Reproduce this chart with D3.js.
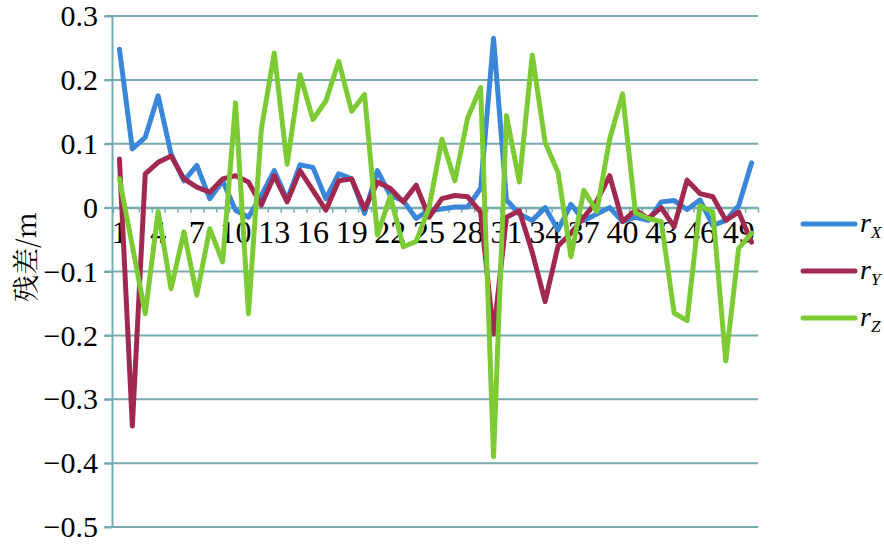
<!DOCTYPE html>
<html>
<head>
<meta charset="utf-8">
<script src="https://cdn.jsdelivr.net/npm/d3@7"></script>
<style>
  body { margin: 0; background: #fff; }
</style>
</head>
<body>
<div class="res"></div>
<script>
// categories 1..50 (point index)
const categories = d3.range(1, 51);

// residual series (m)
const rX = [0.248, 0.092, 0.110, 0.175, 0.084, 0.042, 0.066, 0.014, 0.042, -0.004,
            -0.015, 0.019, 0.058, 0.012, 0.067, 0.063, 0.014, 0.053, 0.045, -0.009,
            0.058, 0.019, 0.011, -0.017, -0.004, -0.002, 0.001, 0.001, 0.030, 0.265,
            0.012, -0.010, -0.020, 0.000, -0.035, 0.005, -0.020, -0.010, 0.000, -0.022,
            -0.015, -0.020, 0.009, 0.011, -0.003, 0.012, -0.028, -0.020, 0.003, 0.070];
const rY = [0.076, -0.342, 0.053, 0.071, 0.081, 0.045, 0.032, 0.024, 0.045, 0.050,
            0.040, 0.004, 0.050, 0.009, 0.058, 0.027, -0.004, 0.042, 0.045, -0.002,
            0.040, 0.030, 0.009, 0.035, -0.015, 0.014, 0.019, 0.017, -0.007, -0.198,
            -0.015, -0.005, -0.070, -0.147, -0.060, -0.040, -0.015, 0.010, 0.050, -0.022,
            -0.004, -0.017, 0.000, -0.030, 0.043, 0.022, 0.017, -0.020, -0.007, -0.054];
const rZ = [0.045, -0.060, -0.166, -0.006, -0.127, -0.038, -0.137, -0.033, -0.085, 0.164,
            -0.166, 0.123, 0.242, 0.068, 0.208, 0.138, 0.167, 0.229, 0.151, 0.177,
            -0.043, 0.018, -0.061, -0.053, 0.000, 0.107, 0.042, 0.141, 0.188, -0.390,
            0.144, 0.040, 0.239, 0.102, 0.055, -0.077, 0.027, -0.006, 0.107, 0.178,
            -0.008, -0.017, -0.022, -0.165, -0.177, 0.003, -0.007, -0.240, -0.064, -0.040];

const yTicks = [0.3, 0.2, 0.1, 0, -0.1, -0.2, -0.3, -0.4, -0.5];
const xLabels = categories.filter((d, i) => i % 3 === 0);
const seriesNames = ['X', 'Y', 'Z'];
const seriesColors = ['#3a86d8', '#a1294f', '#7ccb35'];

const W = 884, H = 552;
const plot = { left: 113, right: 758, top: 16, bottom: 527 };
const gridColor = '#76abb0';
const serif = '"Liberation Serif"';

const svg = d3.select('div.res')
    .append('svg')
    .attr('width', W)
    .attr('height', H)
    .style('background', '#fff');

/**
 * SCALES
 */
const x = d3.scaleBand()
    .domain(categories)
    .range([plot.left, plot.right]);

const xb = d3.scaleLinear() // category boundaries, for the small ticks
    .domain([0, categories.length])
    .range([plot.left, plot.right]);

const y = d3.scaleLinear()
    .domain([-0.5, 0.3])
    .range([plot.bottom, plot.top]);

const yFmt = d => d === 0 ? '0' : d3.format('.1f')(d);

/**
 * GRID
 */
svg.append('g')
    .selectAll('line')
    .data(yTicks)
    .enter().append('line')
    .attr('x1', plot.left - 8)
    .attr('x2', plot.right)
    .attr('y1', d => y(d))
    .attr('y2', d => y(d))
    .style('stroke', gridColor)
    .style('stroke-width', 2);

/**
 * Y AXIS (line + ticks from d3, labels drawn below)
 */
const gy = svg.append('g')
    .attr('transform', `translate(${plot.left - 1}, 0)`)
    .call(d3.axisLeft(y).tickValues(yTicks).tickSize(8).tickSizeOuter(0).tickFormat(''));
gy.select('.domain').style('stroke', gridColor).style('stroke-width', 2);
gy.selectAll('line').style('stroke', gridColor).style('stroke-width', 2);

svg.append('g')
    .selectAll('text')
    .data(yTicks)
    .enter().append('text')
    .attr('x', plot.left - 15)
    .attr('y', d => y(d))
    .attr('dy', '0.34em')
    .attr('text-anchor', 'end')
    .style('font-family', serif)
    .style('font-size', '30px')
    .style('fill', '#000')
    .text(yFmt);

/**
 * X AXIS (boundary ticks + labels)
 */
const gxb = svg.append('g')
    .attr('transform', `translate(0, ${y(0)})`)
    .call(d3.axisBottom(xb).tickValues(d3.range(0, categories.length + 1)).tickSize(5).tickSizeOuter(0).tickFormat(''));
gxb.select('.domain').style('stroke', gridColor).style('stroke-width', 2);
gxb.selectAll('line').style('stroke', gridColor).style('stroke-width', 1.5);

svg.append('g')
    .selectAll('text')
    .data(xLabels)
    .enter().append('text')
    .attr('x', d => x(d) + x.bandwidth() / 2)
    .attr('y', y(0) + 35)
    .attr('text-anchor', 'middle')
    .style('font-family', serif)
    .style('font-size', '32px')
    .style('fill', '#000')
    .text(d => d);

/**
 * LINES
 */
const line = d3.line()
    .x((d, i) => x(categories[i]) + x.bandwidth() / 2)
    .y(d => y(d));

[rX, rY, rZ].forEach((s, k) => {
    svg.append('path')
        .datum(s)
        .attr('d', line)
        .style('fill', 'none')
        .style('stroke', seriesColors[k])
        .style('stroke-width', 5)
        .style('stroke-linejoin', 'round')
        .style('stroke-linecap', 'round');
});

/**
 * LEGEND
 */
const legend = svg.append('g');
seriesNames.forEach((n, k) => {
    const ly = 224 + k * 47;
    legend.append('line')
        .attr('x1', 803).attr('x2', 855)
        .attr('y1', ly).attr('y2', ly)
        .style('stroke', seriesColors[k])
        .style('stroke-width', 5)
        .style('stroke-linecap', 'round');
    const t = legend.append('text')
        .attr('x', 860)
        .attr('y', ly + 8)
        .style('font-family', serif)
        .style('font-style', 'italic')
        .style('font-size', '28px');
    t.append('tspan').text('r');
    t.append('tspan')
        .attr('dy', 6)
        .style('font-size', '17px')
        .text(n);
});

/**
 * Y TITLE
 */
svg.append('text')
    .attr('transform', 'translate(24, 257) rotate(-90)')
    .attr('text-anchor', 'middle')
    .attr('dominant-baseline', 'central')
    .style('font-family', '"Noto Serif CJK SC"')
    .style('font-size', '27px')
    .text('残差/m');
</script>
</body>
</html>
